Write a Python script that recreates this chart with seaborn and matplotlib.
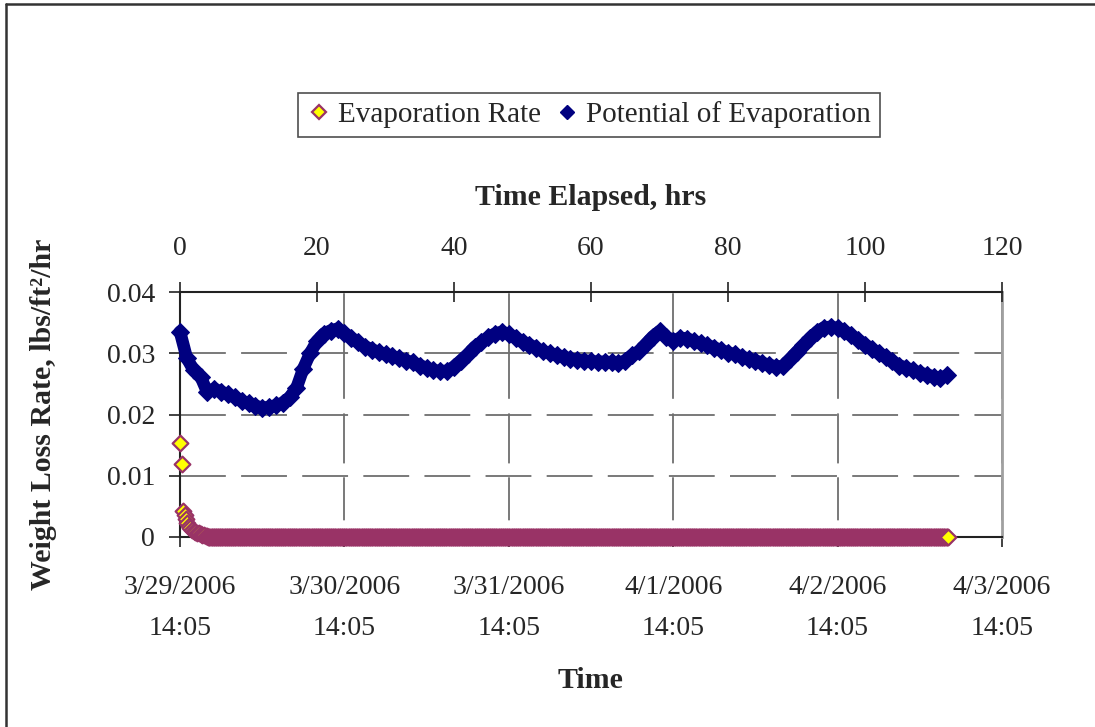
import numpy as np
import matplotlib
matplotlib.use("Agg")
import matplotlib.pyplot as plt
import seaborn as sns
from matplotlib.lines import Line2D

# ---------------- data ----------------
# Potential of evaporation, read hourly (hours elapsed 0..112)
pot_hours = np.arange(0, 113)
pot_values = [
    0.0335, 0.0292, 0.0272, 0.0262, 0.0236, 0.0242, 0.0237, 0.0233, 0.0228, 0.0222,
    0.0218, 0.0214, 0.0211, 0.0212, 0.0215, 0.0219, 0.0228, 0.0243, 0.0275, 0.0300,
    0.0320, 0.0332, 0.0337, 0.0340, 0.0333, 0.0325, 0.0318, 0.0311, 0.0306, 0.0302,
    0.0298, 0.0295, 0.0292, 0.0288, 0.0285, 0.0280, 0.0276, 0.0272, 0.0271, 0.0271,
    0.0278, 0.0288, 0.0298, 0.0310, 0.0318, 0.0326, 0.0332, 0.0335, 0.0331, 0.0325,
    0.0319, 0.0314, 0.0308, 0.0303, 0.0300, 0.0297, 0.0294, 0.0291, 0.0289, 0.0288,
    0.0287, 0.0286, 0.0286, 0.0285, 0.0284, 0.0288, 0.0297, 0.0303, 0.0315, 0.0327,
    0.0336, 0.0327, 0.0320, 0.0325, 0.0324, 0.0320, 0.0316, 0.0313, 0.0309, 0.0305,
    0.0301, 0.0298, 0.0294, 0.0291, 0.0288, 0.0284, 0.0281, 0.0278, 0.0279, 0.0290,
    0.0302, 0.0313, 0.0325, 0.0335, 0.0342, 0.0343, 0.0341, 0.0336, 0.0329, 0.0322,
    0.0314, 0.0307, 0.0300, 0.0294, 0.0287, 0.0280, 0.0276, 0.0272, 0.0268, 0.0265,
    0.0262, 0.0259, 0.0264,
]

# Evaporation rate: early readings, then zero for the rest of the test
evap_early_hours = [0.0, 0.25, 0.5, 0.67, 0.83, 1.0, 1.25, 1.5, 1.75, 2.0,
                    2.25, 2.5, 2.75, 3.0, 3.25, 3.5, 3.75, 4.0]
evap_early_values = [0.0153, 0.0120, 0.0043, 0.0036, 0.0029, 0.0023, 0.0018, 0.0015,
                     0.0012, 0.0010, 0.0008, 0.0007, 0.0006, 0.0005, 0.0004, 0.0003,
                     0.0002, 0.0001]
evap_zero_hours = np.round(np.arange(4.1, 112.15, 0.1), 2)
evap_zero_values = np.zeros(len(evap_zero_hours))

evap_hours = np.concatenate([evap_early_hours, evap_zero_hours])
evap_values = np.concatenate([evap_early_values, evap_zero_values])

date_tick_hours = [0, 24, 48, 72, 96, 120]
date_tick_labels = ["3/29/2006\n14:05", "3/30/2006\n14:05", "3/31/2006\n14:05",
                    "4/1/2006\n14:05", "4/2/2006\n14:05", "4/3/2006\n14:05"]
elapsed_ticks = [0, 20, 40, 60, 80, 100, 120]
elapsed_labels = ["0", "20", "40", "60", "80", "100", "120"]
y_ticks = [0, 0.01, 0.02, 0.03, 0.04]
y_labels = ["0", "0.01", "0.02", "0.03", "0.04"]

series_names = ["Evaporation Rate", "Potential of Evaporation"]

# ---------------- style ----------------
sns.set_theme(style="white")
plt.rcParams["font.family"] = ["Liberation Serif", "DejaVu Serif"]
plt.rcParams["lines.scale_dashes"] = False

W, H = 1095, 727
fig = plt.figure(figsize=(W / 100, H / 100), dpi=100)
ax = fig.add_axes([180 / W, 1 - 537 / H, 822 / W, 245 / H])

POT_COLOR = "#000080"
EVAP_FACE = "#FFFF00"
EVAP_EDGE = "#993366"

sns.lineplot(x=pot_hours, y=pot_values, ax=ax, color=POT_COLOR, linewidth=9,
             marker="D", markersize=9.5, markeredgecolor=POT_COLOR,
             markerfacecolor=POT_COLOR, clip_on=False, zorder=3, legend=False)

sns.scatterplot(x=evap_hours, y=evap_values, ax=ax, marker="D", s=64,
                color=EVAP_FACE, edgecolor=EVAP_EDGE, linewidth=1.6,
                clip_on=False, zorder=4, legend=False)

ax.set_xlim(0, 120)
ax.set_ylim(0, 0.04)

ax.set_xticks(date_tick_hours)
ax.set_xticklabels(date_tick_labels, fontsize=20, linespacing=1.85)
ax.set_yticks(y_ticks)
ax.set_yticklabels(y_labels, fontsize=20)
ax.tick_params(axis="x", direction="out", length=7, width=1.2, color="#222222",
               pad=20, bottom=True)
ax.tick_params(axis="y", direction="out", length=8, width=1.2, color="#222222",
               pad=10, left=True)

# grid
ax.yaxis.grid(True, color="#6e6e6e", linewidth=1.3, linestyle=(0, (33, 11)))
ax.xaxis.grid(True, color="#6e6e6e", linewidth=1.3,
              linestyle=(164, (31, 10, 36, 10.5, 76, 12.5)))

for side in ["top", "left", "bottom"]:
    ax.spines[side].set_color("#222222")
    ax.spines[side].set_linewidth(1.5)
ax.spines["right"].set_color("#a0a0a0")
ax.spines["right"].set_linewidth(2)

# top axis: elapsed hours
ax2 = ax.twiny()
ax2.set_xlim(0, 120)
ax2.set_xticks(elapsed_ticks)
ax2.set_xticklabels(elapsed_labels, fontsize=20)
ax2.tick_params(axis="x", direction="inout", length=15, width=1.2, color="#222222",
                pad=15, top=True)
for side in ["top", "left", "bottom", "right"]:
    ax2.spines[side].set_visible(False)
ax2.set_xlabel("Time Elapsed, hrs", fontsize=21.5, fontweight="bold", labelpad=22)

ax.set_xlabel("Time", fontsize=21.5, fontweight="bold", labelpad=19)
ax.set_ylabel("Weight Loss Rate, lbs/ft²/hr", fontsize=21.5, fontweight="bold")
ax.yaxis.set_label_coords(-0.150, 0.5)

# legend
handles = [
    Line2D([], [], linestyle="none", marker="D", markersize=7.5,
           markerfacecolor=EVAP_FACE, markeredgecolor=EVAP_EDGE, markeredgewidth=1.6),
    Line2D([], [], linestyle="none", marker="D", markersize=7.5,
           markerfacecolor=POT_COLOR, markeredgecolor=POT_COLOR),
]
leg = fig.legend(handles, series_names, loc="center",
                 bbox_to_anchor=(589 / W, 1 - 115 / H), ncol=2, fontsize=21,
                 frameon=True, fancybox=False, edgecolor="#222222",
                 handletextpad=0.25, columnspacing=0.5, handlelength=0.8,
                 borderpad=0.3, borderaxespad=0)
leg.get_frame().set_linewidth(1.2)

# outer chart border (left and top edges visible)
fig.add_artist(Line2D([5.5 / W, 5.5 / W], [0, 1 - 4 / H], transform=fig.transFigure,
                      color="#333333", linewidth=1.8))
fig.add_artist(Line2D([5.5 / W, 1], [1 - 4 / H, 1 - 4 / H], transform=fig.transFigure,
                      color="#333333", linewidth=1.8))

fig.savefig("out.png", dpi=100, facecolor="white")
